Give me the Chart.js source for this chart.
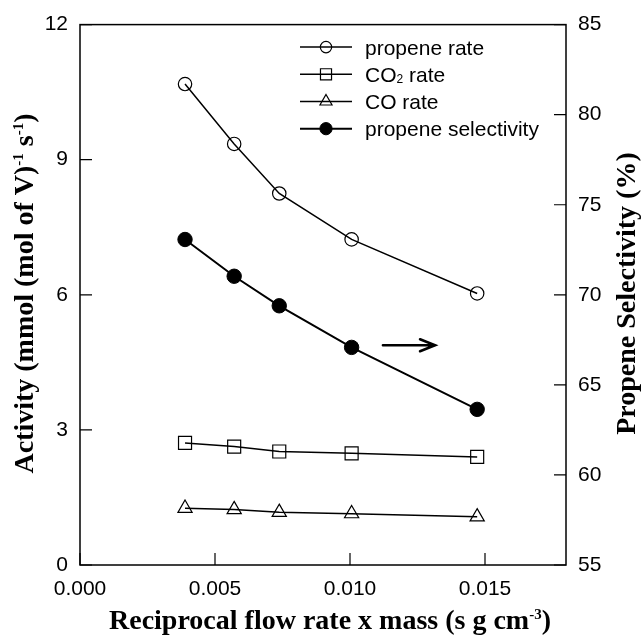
<!DOCTYPE html>
<html>
<head>
<meta charset="utf-8">
<script src="https://cdn.jsdelivr.net/npm/chart.js@4/dist/chart.umd.min.js"></script>
<style>
  html, body { margin: 0; padding: 0; background: #fff; }
</style>
</head>
<body>
<canvas id="chart" width="641" height="638"></canvas>
<script>
// values
const flowMass = [0.00389, 0.00571, 0.00738, 0.01006, 0.01471];
const propeneRate = [10.68, 9.35, 8.25, 7.23, 6.03];
const co2Rate = [2.71, 2.63, 2.52, 2.48, 2.40];
const coRate = [1.26, 1.23, 1.17, 1.14, 1.07];
const propeneSel = [73.07, 71.03, 69.39, 67.08, 63.64];

const xTicks = [0, 0.005, 0.010, 0.015];
const leftTicks = [0, 3, 6, 9, 12];
const rightTicks = [55, 60, 65, 70, 75, 80, 85];

const xTitle = 'Reciprocal flow rate x mass (s g cm^{-3})';
const leftTitle = 'Activity (mmol (mol of V)^{-1} s^{-1})';
const rightTitle = 'Propene Selectivity (%)';

// arrow pointing at the right axis (data units)
const arrowFrom = [0.01122, 4.88];
const arrowTo = [0.01315, 4.88];

const SANS = '"Liberation Sans", Arial, sans-serif';
const SERIF = '"Liberation Serif", "Times New Roman", serif';

const pts = (ys) => flowMass.map((x, i) => ({ x, y: ys[i] }));

// small helper for text with _{sub} and ^{sup}
function parseRich(str) {
  const parts = [];
  const re = /([_^])\{([^}]*)\}/g;
  let last = 0, m;
  while ((m = re.exec(str))) {
    if (m.index > last) parts.push({ t: str.slice(last, m.index), k: '' });
    parts.push({ t: m[2], k: m[1] === '^' ? 'sup' : 'sub' });
    last = re.lastIndex;
  }
  if (last < str.length) parts.push({ t: str.slice(last), k: '' });
  return parts;
}

function richText(ctx, str, x, y, size, weight, family, align) {
  const parts = parseRich(str);
  const fontFor = k => `${weight} ${k ? Math.round(size * 0.55) : size}px ${family}`;
  let w = 0;
  parts.forEach(p => { ctx.font = fontFor(p.k); p.w = ctx.measureText(p.t).width; w += p.w; });
  let cx = align === 'center' ? x - w / 2 : x;
  ctx.textAlign = 'left';
  ctx.textBaseline = 'alphabetic';
  parts.forEach(p => {
    ctx.font = fontFor(p.k);
    const dy = p.k === 'sup' ? -size * 0.36 : p.k === 'sub' ? size * 0.06 : 0;
    ctx.fillText(p.t, cx, y + dy);
    cx += p.w;
  });
}

const decor = {
  id: 'decor',
  afterDraw(chart) {
    const { ctx, chartArea: a } = chart;
    const sx = chart.scales.x, sy = chart.scales.y, sr = chart.scales.y2;
    ctx.save();
    ctx.strokeStyle = '#000';
    ctx.fillStyle = '#000';

    // frame
    ctx.lineWidth = 1.5;
    ctx.strokeRect(a.left, a.top, a.right - a.left, a.bottom - a.top);

    // inward tick marks
    const tl = 12;
    ctx.lineWidth = 1.2;
    ctx.beginPath();
    xTicks.forEach(v => {
      const px = sx.getPixelForValue(v);
      ctx.moveTo(px, a.bottom); ctx.lineTo(px, a.bottom - tl);
    });
    leftTicks.forEach(v => {
      const py = sy.getPixelForValue(v);
      ctx.moveTo(a.left, py); ctx.lineTo(a.left + tl, py);
    });
    rightTicks.forEach(v => {
      const py = sr.getPixelForValue(v);
      ctx.moveTo(a.right, py); ctx.lineTo(a.right - tl, py);
    });
    ctx.stroke();

    // legend
    const lx0 = a.left + 220, lx1 = a.left + 272, tx = a.left + 285;
    chart.data.datasets.forEach((ds, i) => {
      const y = a.top + 22.5 + i * 27.2;
      ctx.lineWidth = ds.borderWidth;
      ctx.beginPath();
      ctx.moveTo(lx0, y); ctx.lineTo(lx1, y);
      ctx.stroke();
      ctx.fillStyle = ds.pointBackgroundColor;
      ctx.lineWidth = ds.pointBorderWidth;
      Chart.helpers.drawPoint(ctx, {
        pointStyle: ds.pointStyle, rotation: 0,
        radius: ds.pointRadius * 0.85, borderWidth: ds.pointBorderWidth
      }, (lx0 + lx1) / 2, y);
      ctx.fillStyle = '#000';
      richText(ctx, ds.label, tx, y + 7.5, 21, 'normal', SANS, 'left');
    });

    // arrow
    const ax0 = sx.getPixelForValue(arrowFrom[0]), ay0 = sy.getPixelForValue(arrowFrom[1]);
    const ax1 = sx.getPixelForValue(arrowTo[0]), ay1 = sy.getPixelForValue(arrowTo[1]);
    ctx.lineWidth = 2.6;
    ctx.lineCap = 'round';
    ctx.beginPath();
    ctx.moveTo(ax0, ay0); ctx.lineTo(ax1, ay1);
    ctx.moveTo(ax1 - 15, ay1 - 6); ctx.lineTo(ax1, ay1); ctx.lineTo(ax1 - 15, ay1 + 6);
    ctx.stroke();

    // axis titles
    ctx.fillStyle = '#000';
    richText(ctx, xTitle, 330, 629, 28, 'bold', SERIF, 'center');
    ctx.save();
    ctx.translate(33, 293.5);
    ctx.rotate(-Math.PI / 2);
    richText(ctx, leftTitle, 0, 0, 28, 'bold', SERIF, 'center');
    ctx.restore();
    ctx.save();
    ctx.translate(635, 293.5);
    ctx.rotate(-Math.PI / 2);
    richText(ctx, rightTitle, 0, 0, 28, 'bold', SERIF, 'center');
    ctx.restore();

    ctx.restore();
  }
};

const tickFont = { family: SANS, size: 21 };

new Chart(document.getElementById('chart'), {
  type: 'line',
  data: {
    datasets: [
      {
        label: 'propene rate', data: pts(propeneRate), yAxisID: 'y',
        borderColor: '#000', borderWidth: 1.5, pointStyle: 'circle', pointRadius: 6.7,
        pointBorderWidth: 1.2, pointBorderColor: '#000', pointBackgroundColor: 'rgba(0,0,0,0)'
      },
      {
        label: 'CO_{2} rate', data: pts(co2Rate), yAxisID: 'y',
        borderColor: '#000', borderWidth: 1.5, pointStyle: 'rect', pointRadius: 9.2,
        pointBorderWidth: 1.2, pointBorderColor: '#000', pointBackgroundColor: 'rgba(0,0,0,0)'
      },
      {
        label: 'CO rate', data: pts(coRate), yAxisID: 'y',
        borderColor: '#000', borderWidth: 1.5, pointStyle: 'triangle', pointRadius: 8.2,
        pointBorderWidth: 1.2, pointBorderColor: '#000', pointBackgroundColor: 'rgba(0,0,0,0)'
      },
      {
        label: 'propene selectivity', data: pts(propeneSel), yAxisID: 'y2',
        borderColor: '#000', borderWidth: 2, pointStyle: 'circle', pointRadius: 7.2,
        pointBorderWidth: 1, pointBorderColor: '#000', pointBackgroundColor: '#000'
      }
    ]
  },
  options: {
    responsive: false,
    animation: false,
    devicePixelRatio: 1,
    layout: { padding: { top: 21, left: 0, right: 0, bottom: 0 } },
    elements: { line: { tension: 0 } },
    plugins: { legend: { display: false }, tooltip: { enabled: false } },
    scales: {
      x: {
        type: 'linear', min: 0, max: 0.018,
        afterBuildTicks: s => { s.ticks = xTicks.map(v => ({ value: v })); },
        afterFit: s => { s.height = 73; },
        grid: { display: false, drawTicks: false },
        border: { display: false },
        ticks: { font: tickFont, color: '#000', padding: 12, maxRotation: 0, callback: v => v.toFixed(3) }
      },
      y: {
        position: 'left', min: 0, max: 12,
        afterBuildTicks: s => { s.ticks = leftTicks.map(v => ({ value: v })); },
        afterFit: s => { s.width = 80; },
        grid: { display: false, drawTicks: false },
        border: { display: false },
        ticks: { font: tickFont, color: '#000', padding: 12 }
      },
      y2: {
        position: 'right', min: 55, max: 85,
        afterBuildTicks: s => { s.ticks = rightTicks.map(v => ({ value: v })); },
        afterFit: s => { s.width = 75; },
        grid: { display: false, drawTicks: false },
        border: { display: false },
        ticks: { font: tickFont, color: '#000', padding: 12 }
      }
    }
  },
  plugins: [decor]
});
</script>
</body>
</html>
